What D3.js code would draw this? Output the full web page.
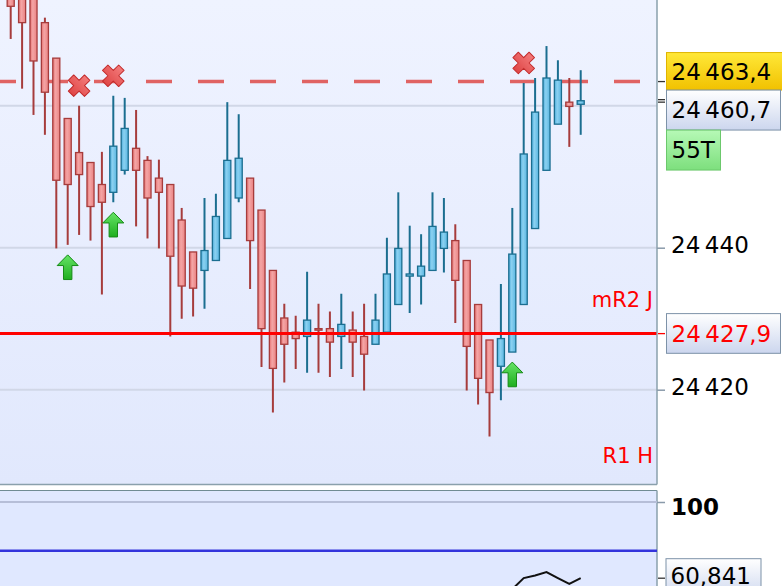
<!DOCTYPE html>
<html>
<head>
<meta charset="utf-8">
<script src="https://cdn.jsdelivr.net/npm/d3@7"></script>
<style>
html, body { margin: 0; padding: 0; background: #fff; }
svg { display: block; font-family: "DejaVu Sans", sans-serif; }
</style>
</head>
<body>
<svg id="chart" width="782" height="586"></svg>
<script>
// candle data (one value per candle, left to right)
const opens = [24477.5, 24478.0, 24478.5, 24471.7, 24466.7, 24458.2, 24453.4, 24452.0, 24448.9, 24447.8,
    24450.9, 24454.0, 24452.3, 24449.8, 24448.9, 24443.9, 24439.4, 24436.8, 24438.2, 24441.3,
    24447.0, 24449.8, 24445.3, 24436.8, 24430.1, 24428.1, 24427.5, 24428.6, 24428.6, 24427.5,
    24428.4, 24427.5, 24426.4, 24428.1, 24432.0, 24436.0, 24436.0, 24436.8, 24439.9, 24441.0,
    24438.2, 24432.0, 24427.0, 24423.3, 24425.3, 24432.0, 24442.7, 24450.9, 24457.4, 24460.5, 24460.2];
const highs = [24479.0, 24479.0, 24479.5, 24472.4, 24466.7, 24458.2, 24460.0, 24452.0, 24453.5, 24461.4,
    24461.1, 24459.4, 24452.9, 24452.4, 24448.9, 24445.6, 24439.4, 24447.0, 24447.6, 24460.5,
    24458.8, 24449.8, 24445.3, 24436.8, 24432.1, 24430.4, 24436.6, 24432.1, 24431.0, 24433.5,
    24431.0, 24432.1, 24433.5, 24441.4, 24447.8, 24443.1, 24441.9, 24447.8, 24447.0, 24443.3,
    24438.2, 24432.0, 24427.0, 24434.9, 24445.6, 24463.2, 24463.9, 24468.4, 24466.4, 24463.9, 24465.0];
const lows = [24469.4, 24462.4, 24458.7, 24455.9, 24439.9, 24440.4, 24441.8, 24441.0, 24433.4, 24446.4,
    24450.3, 24443.0, 24441.3, 24439.9, 24427.5, 24430.0, 24430.3, 24431.4, 24438.2, 24441.3,
    24446.4, 24434.2, 24423.2, 24416.8, 24421.0, 24422.9, 24422.4, 24422.4, 24421.8, 24422.9,
    24421.8, 24419.9, 24426.4, 24428.1, 24432.0, 24430.8, 24432.0, 24436.8, 24436.5, 24429.4,
    24419.9, 24417.9, 24413.4, 24418.5, 24425.3, 24432.0, 24442.7, 24450.9, 24457.4, 24454.2, 24455.9];
const closes = [24474.0, 24471.7, 24466.3, 24461.9, 24449.5, 24448.9, 24450.3, 24445.8, 24446.4, 24454.3,
    24456.8, 24450.9, 24447.0, 24447.8, 24438.8, 24434.6, 24434.3, 24439.6, 24444.4, 24452.3,
    24452.6, 24441.0, 24428.6, 24423.0, 24426.4, 24427.2, 24429.8, 24428.4, 24426.7, 24429.2,
    24426.7, 24425.0, 24429.8, 24436.3, 24439.9, 24436.3, 24437.4, 24443.0, 24442.2, 24435.4,
    24426.1, 24421.6, 24419.6, 24427.2, 24439.1, 24453.2, 24459.1, 24463.9, 24463.6, 24459.9, 24460.7];

// signal markers (candle index)
const buySignals = [5, 9, 44];
const sellSignals = [6, 9, 45];

// lower panel oscillator (only the visible tail)
const oscIndex = [44, 45, 46, 47, 48, 49, 50];
const oscValues = [55.2, 60.9, 62.2, 64.0, 60.9, 57.9, 60.841];
const oscTicks = [100];
const oscLevel = 75;

const gridPrices = [24420, 24440, 24460];
const labelPrices = [24420, 24440]; // 24 460 sits under the price boxes
const refPrice = 24463.4;
const lastPrice = 24460.7;
const pivotPrice = 24427.9;
const r1Price = 24406.0;
const timeLabel = '55T';

const plotRight = 657;
const mainBottom = 484.5;
const oscTop = 490.5;

const svg = d3.select('#chart');
const defs = svg.append('defs');

function gradient(id, stops, horizontal) {
    const g = defs.append('linearGradient').attr('id', id)
        .attr('x1', 0).attr('y1', 0)
        .attr('x2', horizontal ? 1 : 0).attr('y2', horizontal ? 0 : 1);
    stops.forEach(s => g.append('stop').attr('offset', s[0]).attr('stop-color', s[1]));
}
gradient('bgMain', [[0, '#eff3ff'], [1, '#e1e8fd']]);
gradient('redBody', [[0, '#e67474'], [0.4, '#f4a5a5'], [1, '#ea8282']], true);
gradient('blueBody', [[0, '#4eaddb'], [0.4, '#8bd1f1'], [1, '#5ab6e1']], true);
gradient('gold', [[0, '#ffe838'], [1, '#f1c100']]);
gradient('silver', [[0, '#ffffff'], [1, '#ccd6ee']]);
gradient('green', [[0, '#b6f9b6'], [1, '#7ddf7d']]);
gradient('arrowFill', [[0, '#66e466'], [1, '#1fae1f']]);
gradient('crossFill', [[0, '#f37a7a'], [1, '#df4646']]);

const locale = d3.formatLocale({decimal: ',', thousands: '\u202f', grouping: [3], currency: ['', '']});
const fmtInt = locale.format(',d');
const fmt1 = locale.format(',.1f');
const fmt3 = locale.format(',.3f');

const x = d3.scaleBand()
    .domain(d3.range(opens.length))
    .range([5, 586.4])
    .paddingInner(0.38)
    .paddingOuter(0.19);
const cx = i => x(i) + x.bandwidth() / 2;

const y = d3.scaleLinear().domain([24420, 24460]).range([389.7, 105.7]);
const yo = d3.scaleLinear().domain([60.841, 100]).range([578.2, 502]);

// panels
svg.append('rect').attr('x', 0).attr('y', 0).attr('width', plotRight).attr('height', mainBottom)
    .attr('fill', 'url(#bgMain)');
svg.append('rect').attr('x', 0).attr('y', oscTop).attr('width', plotRight).attr('height', 586 - oscTop)
    .attr('fill', '#e0e8ff');

defs.append('clipPath').attr('id', 'clipMain')
    .append('rect').attr('x', 0).attr('y', 0).attr('width', plotRight).attr('height', mainBottom);
defs.append('clipPath').attr('id', 'clipOsc')
    .append('rect').attr('x', 0).attr('y', oscTop).attr('width', plotRight).attr('height', 586 - oscTop);

const main = svg.append('g').attr('clip-path', 'url(#clipMain)');

// grid
main.selectAll('.grid')
    .data(gridPrices)
    .enter()
    .append('line')
    .attr('x1', 0).attr('x2', plotRight)
    .attr('y1', d => y(d)).attr('y2', d => y(d))
    .style('stroke', '#d1d7e7')
    .style('stroke-width', 2);

// dashed reference level
main.append('line')
    .attr('x1', 0).attr('x2', plotRight)
    .attr('y1', y(refPrice)).attr('y2', y(refPrice))
    .style('stroke', '#e06363')
    .style('stroke-width', 3.5)
    .style('stroke-dasharray', '26,26')
    .style('stroke-dashoffset', 10);

// candles
const candles = d3.range(opens.length).map(i => ({
    i: i, o: opens[i], h: highs[i], l: lows[i], c: closes[i], up: closes[i] >= opens[i]
}));
const bw = x.bandwidth();

main.selectAll('.wick')
    .data(candles)
    .enter()
    .append('line')
    .attr('x1', d => cx(d.i)).attr('x2', d => cx(d.i))
    .attr('y1', d => y(d.h)).attr('y2', d => y(d.l))
    .style('stroke', d => d.up ? '#1b6e90' : '#a63c3c')
    .style('stroke-width', 2);

main.selectAll('.body')
    .data(candles)
    .enter()
    .append('rect')
    .attr('x', d => cx(d.i) - bw / 2)
    .attr('y', d => y(Math.max(d.o, d.c)))
    .attr('width', bw)
    .attr('height', d => Math.max(Math.abs(y(d.o) - y(d.c)), 1.5))
    .style('fill', d => d.up ? 'url(#blueBody)' : 'url(#redBody)')
    .style('stroke', d => d.up ? '#1b6e90' : '#a63c3c')
    .style('stroke-width', 1.3);

// pivot level
main.append('line')
    .attr('x1', 0).attr('x2', plotRight)
    .attr('y1', y(pivotPrice)).attr('y2', y(pivotPrice))
    .style('stroke', '#ff0000')
    .style('stroke-width', 3);

main.append('text')
    .attr('x', 653).attr('y', y(pivotPrice) - 26.5)
    .attr('text-anchor', 'end')
    .style('font-size', '21px').style('fill', '#ff0000')
    .text('mR2 J');
main.append('text')
    .attr('x', 653).attr('y', y(r1Price) - 26.5)
    .attr('text-anchor', 'end')
    .style('font-size', '21px').style('fill', '#ff0000')
    .text('R1 H');

// buy arrows under the low
const arrowPts = [[0, 0], [10.5, 10.7], [4.2, 10.7], [4.2, 24.7], [-4.2, 24.7], [-4.2, 10.7], [-10.5, 10.7]];
main.selectAll('.buy')
    .data(buySignals)
    .enter()
    .append('polygon')
    .attr('points', arrowPts.map(p => p.join(',')).join(' '))
    .attr('transform', d => `translate(${cx(d)},${y(lows[d]) + 10})`)
    .style('fill', 'url(#arrowFill)')
    .style('stroke', '#168a16')
    .style('stroke-width', 1);

// sell crosses above the high
main.selectAll('.sell')
    .data(sellSignals)
    .enter()
    .append('path')
    .attr('d', d3.symbol().type(d3.symbolCross).size(290)())
    .attr('transform', d => `translate(${cx(d)},${y(highs[d]) - 20}) rotate(45)`)
    .style('fill', 'url(#crossFill)')
    .style('stroke', '#c22a2a')
    .style('stroke-width', 1)
    .style('stroke-linejoin', 'round');

// panel borders
const border = '#8aa0ac';
svg.append('line').attr('x1', plotRight).attr('x2', plotRight).attr('y1', 0).attr('y2', mainBottom)
    .style('stroke', border).style('stroke-width', 1.5);
svg.append('line').attr('x1', 0).attr('x2', plotRight).attr('y1', mainBottom).attr('y2', mainBottom)
    .style('stroke', border).style('stroke-width', 1.5);
svg.append('line').attr('x1', 0).attr('x2', plotRight).attr('y1', oscTop).attr('y2', oscTop)
    .style('stroke', '#708c94').style('stroke-width', 1.2);
svg.append('line').attr('x1', plotRight).attr('x2', plotRight).attr('y1', oscTop).attr('y2', 586)
    .style('stroke', border).style('stroke-width', 1.5);

// price axis
const yAxis = svg.append('g')
    .attr('transform', `translate(${plotRight},0)`)
    .call(d3.axisRight(y).tickValues(labelPrices).tickSize(8).tickPadding(6).tickFormat(fmtInt));
yAxis.select('.domain').remove();
yAxis.selectAll('line').style('stroke', '#8a9aaa').style('stroke-width', 1.5);
yAxis.selectAll('text').attr('dy', '0.22em').style('font-size', '23px').style('fill', '#000')
    .style('font-family', '"DejaVu Sans", sans-serif');

// level ticks
[[refPrice, '#333'], [lastPrice - 0.2, '#333'], [lastPrice + 0.15, '#333'], [pivotPrice, '#ff0000']].forEach(t => {
    svg.append('line').attr('x1', plotRight + 1).attr('x2', plotRight + 8)
        .attr('y1', y(t[0])).attr('y2', y(t[0]))
        .style('stroke', t[1]).style('stroke-width', 1.3);
});

function priceBox(top, h, w, fill, stroke, label, color) {
    const g = svg.append('g');
    g.append('rect').attr('x', 666.5).attr('y', top).attr('width', w).attr('height', h)
        .style('fill', fill).style('stroke', stroke).style('stroke-width', 1);
    g.append('text').attr('x', 671.5).attr('y', top + h / 2).attr('dy', '0.36em')
        .style('font-size', '23px').style('fill', color).text(label);
}

const goldTop = y(refPrice) - 29;
priceBox(goldTop, 37.5, 117, 'url(#gold)', '#e0b400', fmt1(refPrice), '#000');
priceBox(goldTop + 37.5, 40, 114, 'url(#silver)', '#7d92a8', fmt1(lastPrice), '#000');
priceBox(goldTop + 77.5, 40, 54, 'url(#green)', '#6cc86c', timeLabel, '#000');
priceBox(y(pivotPrice) - 20, 39.7, 114, 'url(#silver)', '#7d92a8', fmt1(pivotPrice), '#ff0000');

// oscillator panel
const osc = svg.append('g').attr('clip-path', 'url(#clipOsc)');
osc.selectAll('.ogrid')
    .data(oscTicks)
    .enter()
    .append('line')
    .attr('x1', 0).attr('x2', plotRight)
    .attr('y1', d => yo(d)).attr('y2', d => yo(d))
    .style('stroke', '#b6bed8').style('stroke-width', 2);
osc.append('line')
    .attr('x1', 0).attr('x2', plotRight)
    .attr('y1', yo(oscLevel)).attr('y2', yo(oscLevel))
    .style('stroke', '#3434dc').style('stroke-width', 2.5);

const oscLine = d3.line()
    .x((d, k) => cx(oscIndex[k]))
    .y(d => yo(d));
osc.append('path')
    .attr('d', oscLine(oscValues))
    .style('fill', 'none')
    .style('stroke', '#111')
    .style('stroke-width', 2);

const oAxis = svg.append('g')
    .attr('transform', `translate(${plotRight},0)`)
    .call(d3.axisRight(yo).tickValues(oscTicks).tickSize(8).tickPadding(6).tickFormat(fmtInt));
oAxis.select('.domain').remove();
oAxis.selectAll('line').style('stroke', '#8a9aaa').style('stroke-width', 1.5);
oAxis.selectAll('text').attr('dy', '0.55em').style('font-size', '23px').style('font-weight', 'bold')
    .style('fill', '#000').style('font-family', '"DejaVu Sans", sans-serif');

const lastOsc = oscValues[oscValues.length - 1];
svg.append('line').attr('x1', plotRight + 1).attr('x2', plotRight + 8)
    .attr('y1', yo(lastOsc)).attr('y2', yo(lastOsc))
    .style('stroke', '#333').style('stroke-width', 1.3);
svg.append('rect').attr('x', 666).attr('y', yo(lastOsc) - 19.5).attr('width', 95).attr('height', 40)
    .style('fill', 'url(#silver)').style('stroke', '#7d92a8').style('stroke-width', 1);
svg.append('text').attr('x', 670.5).attr('y', yo(lastOsc)).attr('dy', '0.24em')
    .style('font-size', '23px').style('fill', '#000').text(fmt3(lastOsc));
</script>
</body>
</html>
